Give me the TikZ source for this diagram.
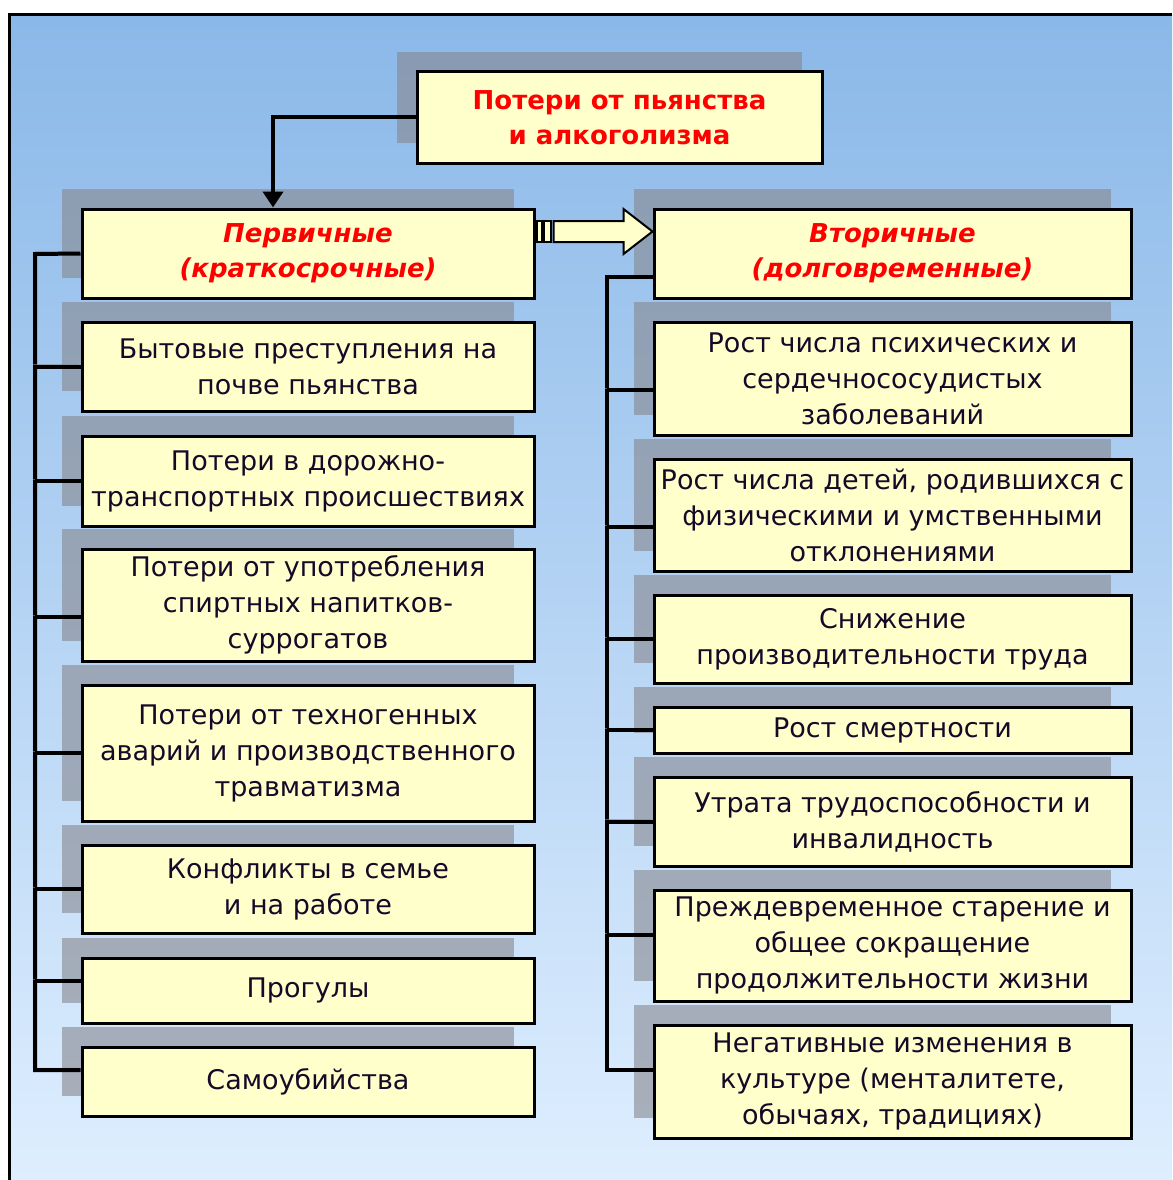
\documentclass[tikz,border=0pt]{standalone}
\usepackage{fontspec}
\setmainfont{DejaVu Sans}
\usetikzlibrary{arrows.meta,shadows}
\definecolor{bgtop}{RGB}{138,184,232}
\definecolor{bgbot}{RGB}{222,238,255}
\definecolor{boxfill}{RGB}{255,255,204}
\definecolor{shadowc}{RGB}{135,135,142}
\definecolor{txt}{RGB}{20,10,40}
\definecolor{titlered}{RGB}{255,0,0}
\begin{document}
\begin{tikzpicture}[x=1pt,y=-1pt,
 box/.style={draw=black, line width=3pt, fill=boxfill, align=center, inner sep=0pt, text=txt,
   font=\fontsize{27}{36}\selectfont,
   drop shadow={shadow xshift=-20pt,shadow yshift=20pt,fill=shadowc,opacity=0.6}},
 lbox/.style={box, minimum width=452pt},
 rbox/.style={box, minimum width=477pt},
 headtext/.style={text=titlered, font=\fontsize{26}{35}\selectfont\bfseries},
 subtext/.style={text=titlered, font=\fontsize{26}{35}\selectfont\bfseries\itshape},
 conn/.style={line width=4pt, draw=black,
   preaction={draw=shadowc, opacity=.6, transform canvas={shift={(-2pt,2pt)}}}},
 barrow/.style={draw=black, line width=2pt, fill=boxfill},
]
\useasboundingbox (0,0) rectangle (1172,1180);
\fill[white] (0,0) rectangle (1172,1180);
\shade[top color=bgtop, bottom color=bgbot] (9.5,14.5) rectangle (1172,1180);
\draw[line width=3pt] (9.5,1180) -- (9.5,14.5) -- (1172,14.5);

% top
\node[box, headtext, minimum width=405pt, minimum height=91pt] (top) at (619.5,117.5) {Потери от пьянства\\и алкоголизма};

% left column
\node[lbox, subtext, minimum height=89pt] (l1) at (308,253.5) {Первичные\\(краткосрочные)};
\node[lbox, minimum height=89pt] (l2) at (308,366.5) {Бытовые преступления на\\почве пьянства};
\node[lbox, minimum height=90pt] (l3) at (308,481) {Потери в дорожно-\\транспортных происшествиях};
\node[lbox, minimum height=112pt] (l4) at (308,605) {Потери от употребления\\спиртных напитков-\\суррогатов};
\node[lbox, minimum height=136pt] (l5) at (308,753) {Потери от техногенных\\аварий и производственного\\травматизма};
\node[lbox, minimum height=88pt] (l6) at (308,889) {Конфликты в семье\\и на работе};
\node[lbox, minimum height=65pt] (l7) at (308,990.5) {Прогулы};
\node[lbox, minimum height=69pt] (l8) at (308,1081.5) {Самоубийства};

% right column
\node[rbox, subtext, minimum height=89pt] (r1) at (892.5,253.5) {Вторичные\\(долговременные)};
\node[rbox, minimum height=113pt] (r2) at (892.5,378.5) {Рост числа психических и\\сердечнососудистых\\заболеваний};
\node[rbox, minimum height=112pt] (r3) at (892.5,515) {Рост числа детей, родившихся с\\физическими и умственными\\отклонениями};
\node[rbox, minimum height=88pt] (r4) at (892.5,639) {Снижение\\производительности труда};
\node[rbox, minimum height=46pt] (r5) at (892.5,730) {Рост смертности};
\node[rbox, minimum height=89pt] (r6) at (892.5,821.5) {Утрата трудоспособности и\\инвалидность};
\node[rbox, minimum height=111pt] (r7) at (892.5,945.5) {Преждевременное старение и\\общее сокращение\\продолжительности жизни};
\node[rbox, minimum height=113pt] (r8) at (892.5,1081.5) {Негативные изменения в\\культуре (менталитете,\\обычаях, традициях)};

% top arrow
\coordinate (ta) at ([xshift=-35pt]l1.north);
\draw[conn, -{Triangle[width=20pt,length=16pt]}] (top.west) -| (ta);

% left trunk
\coordinate (lt) at (35,254);
\coordinate (lb) at (35,1070);
\coordinate (l4c) at ([yshift=-12pt]l4.west);
\coordinate (l7c) at ([yshift=9.5pt]l7.west);
\coordinate (l8c) at ([yshift=11.5pt]l8.west);
\draw[conn] (l1.west) -- (lt) -- (lb) -- (l8c);
\draw[conn] (l2.west) -- (l2.west -| lt);
\draw[conn] (l3.west) -- (l3.west -| lt);
\draw[conn] (l4c) -- (l4c -| lt);
\draw[conn] (l5.west) -- (l5.west -| lt);
\draw[conn] (l6.west) -- (l6.west -| lt);
\draw[conn] (l7c) -- (l7c -| lt);

% right trunk
\coordinate (rt) at (607,277);
\coordinate (rb) at (607,1070);
\coordinate (r1c) at ([yshift=-23.5pt]r1.west);
\coordinate (r2c) at ([yshift=-11.5pt]r2.west);
\coordinate (r3c) at ([yshift=-12pt]r3.west);
\coordinate (r7c) at ([yshift=10.5pt]r7.west);
\coordinate (r8c) at ([yshift=11.5pt]r8.west);
\draw[conn] (r1c) -- (rt) -- (rb) -- (r8c);
\draw[conn] (r2c) -- (r2c -| rt);
\draw[conn] (r3c) -- (r3c -| rt);
\draw[conn] (r4.west) -- (r4.west -| rt);
\draw[conn] (r5.west) -- (r5.west -| rt);
\draw[conn] (r6.west) -- (r6.west -| rt);
\draw[conn] (r7c) -- (r7c -| rt);

% striped block arrow between the two headers
\coordinate (bs) at ([yshift=22pt]l1.east);
\coordinate (be) at ([yshift=22pt]r1.west);
\draw[barrow] ([shift={(1,-10.5)}]bs) rectangle ([shift={(6,10.5)}]bs);
\draw[barrow] ([shift={(8,-10.5)}]bs) rectangle ([shift={(15,10.5)}]bs);
\draw[barrow, line join=miter] ([shift={(18,-10.5)}]bs) -- ([shift={(-29,-10.5)}]be) -- ([shift={(-29,-22.5)}]be)
  -- (be) -- ([shift={(-29,22.5)}]be) -- ([shift={(-29,10.5)}]be) -- ([shift={(18,10.5)}]bs) -- cycle;
\end{tikzpicture}
\end{document}
